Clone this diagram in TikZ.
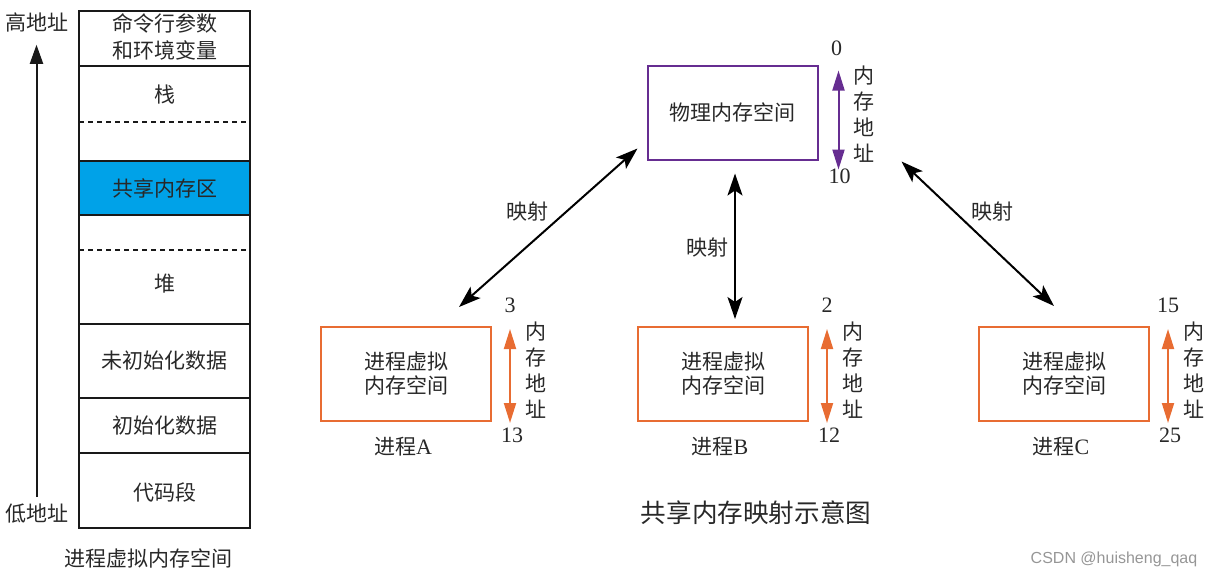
\documentclass[tikz,border=0pt]{standalone}
\usepackage{fontspec}
\setmainfont{Liberation Serif}
\newfontfamily\cjk{Noto Sans CJK SC}
\newfontfamily\wmfont{Liberation Sans}
\usetikzlibrary{arrows.meta,positioning}
\definecolor{ink}{RGB}{40,40,40}
\definecolor{shmblue}{RGB}{0,162,232}
\definecolor{plum}{RGB}{102,45,145}
\definecolor{rust}{RGB}{232,108,50}
\definecolor{wmgray}{RGB}{150,150,150}
\tikzset{
  >={Stealth[length=11pt,width=7.5pt,inset=2.5pt]},
  seglab/.style={font=\cjk\fontsize{10.5}{13.5}\selectfont,align=center,text=ink},
  vbox/.style={draw=#1,line width=1pt,minimum width=85pt,minimum height=47pt,
    align=center,font=\cjk\fontsize{10.5}{12}\selectfont,text=ink},
  vbox/.default=rust,
  addr/.style={{Triangle[length=10pt,width=6pt]}-{Triangle[length=10pt,width=6pt]},
    line width=1pt,draw=#1},
  addr/.default=rust,
  maparrow/.style={<->,line width=1pt,draw=black},
  num/.style={font=\fontsize{11}{11}\selectfont,text=ink},
  vlab/.style={font=\cjk\fontsize{10.5}{13}\selectfont,align=center,text=ink,inner sep=0pt},
  segline/.style={line width=1pt,draw=black!90},
  dashline/.style={line width=0.9pt,draw=black!90,dash pattern=on 2.5pt off 2pt},
}
\begin{document}
\begin{tikzpicture}[x=0.5pt,y=-0.5pt]
  \useasboundingbox (0,0) rectangle (1216,579);
  % process memory layout
  \fill[shmblue] (79,161) rectangle (250,215);
  \foreach \y in {66,161,215,324,398,453} \draw[segline] (79,\y) -- (250,\y);
  \foreach \y in {122,250} \draw[dashline] (79,\y) -- (250,\y);
  \draw[segline] (79,11) rectangle (250,528);
  \foreach \t/\y [count=\i] in {{命令行参数\\和环境变量}/36.5,栈/95,共享内存区/188,堆/284,
      未初始化数据/361,初始化数据/426,代码段/492}
    \node[seglab] (seg\i) at (164.5,\y) {\t};
  \node[seglab] (layout) at (148,558) {进程虚拟内存空间};
  \node[seglab] (hi) at (36.5,22) {高地址};
  \node[seglab] (lo) at (36.5,514) {低地址};
  \draw[segline,-{Triangle[length=9.5pt,width=6.5pt]},shorten >=3pt] (lo.north) -- (hi.south);

  % shared memory mapping
  \node[vbox=plum] (phys) at (732.5,112.5) {物理内存空间};
  \draw[addr=plum] ([xshift=10pt,yshift=-3pt]phys.north east) -- ([xshift=10pt,yshift=-4.5pt]phys.south east);
  \node[num] (phys0) at ([xshift=9pt,yshift=8pt]phys.north east) {0};
  \node[num] (phys1) at ([xshift=10.5pt,yshift=-8pt]phys.south east) {10};
  \node[vlab] (physv) at ([xshift=22.5pt,yshift=-0.75pt]phys.east) {内\\存\\地\\址};
  \foreach \n/\x/\lo/\hi in {A/406/3/13,B/723/2/12,C/1064/15/25}{
    \node[vbox] (p\n) at (\x,374) {进程虚拟\\内存空间};
    \node[seglab] (t\n) at (\x-3,447) {进程{\rmfamily\fontsize{11}{11}\selectfont\n}};
    \draw[addr] ([xshift=9pt,yshift=-1.5pt]p\n.north east) -- ([xshift=9pt,yshift=-0.5pt]p\n.south east);
    \node[num] (lo\n) at ([xshift=9pt,yshift=10.5pt]p\n.north east) {\lo};
    \node[num] (hi\n) at ([xshift=10pt,yshift=-6.5pt]p\n.south east) {\hi};
    \node[vlab] (v\n) at ([xshift=22pt,yshift=2pt]p\n.east) {内\\存\\地\\址};
  }
  \draw[maparrow] ([xshift=-16.5pt,yshift=9.5pt]pA.north east) -- ([xshift=-4.5pt,yshift=6pt]phys.south west);
  \draw[maparrow] ([xshift=6pt,yshift=3.5pt]pB.north) -- ([xshift=1.25pt,yshift=-6.5pt]phys.south);
  \draw[maparrow] ([xshift=38pt,yshift=10pt]pC.north west) -- ([xshift=41.5pt,yshift=-0.5pt]phys.south east);
  \node[seglab] (mA) at (527,212) {映射};
  \node[seglab] (mB) at (707,248) {映射};
  \node[seglab] (mC) at (992,212) {映射};
  \node[font=\cjk\fontsize{12.8}{14}\selectfont,text=ink] (title) at (756,513) {共享内存映射示意图};
  \node[font=\wmfont\fontsize{8}{9}\selectfont,text=wmgray] (wm) at (1114,559) {CSDN @huisheng\_qaq};
\end{tikzpicture}
\end{document}
